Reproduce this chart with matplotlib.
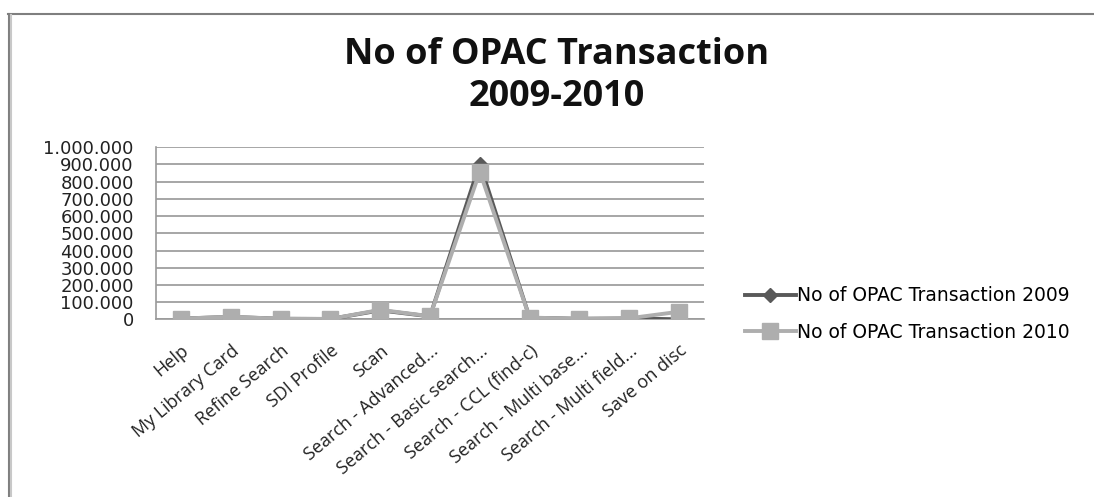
import matplotlib
matplotlib.use("Agg")
import matplotlib.pyplot as plt
from matplotlib.lines import Line2D
from matplotlib.ticker import FuncFormatter

categories = ["Help", "My Library Card", "Refine Search", "SDI Profile", "Scan",
              "Search - Advanced...", "Search - Basic search...", "Search - CCL (find-c)",
              "Search - Multi base...", "Search - Multi field...", "Save on disc"]
values_2009 = [4000, 14000, 3000, 2000, 52000, 17000, 905000, 9000, 3000, 5000, 0]
values_2010 = [4000, 15000, 3000, 2000, 55000, 18000, 858000, 10000, 3000, 6000, 44000]
series_names = ["No of OPAC Transaction 2009", "No of OPAC Transaction 2010"]
title_text = "No of OPAC Transaction\n2009-2010"

W, H = 1094, 497
fig = plt.figure(figsize=(W / 100, H / 100), dpi=100)
fig.patch.set_facecolor("white")

# axes placement in pixels
left, right, top, bottom = 156, 704, 147.3, 319.3
ax = fig.add_axes([left / W, 1 - bottom / H, (right - left) / W, (bottom - top) / H])

x = list(range(len(categories)))
ax.plot(x, values_2009, color="#595959", lw=2.8, marker="D", ms=7,
        markeredgecolor="#595959", markerfacecolor="#595959", label=series_names[0], zorder=3)
ax.plot(x, values_2010, color="#AEAEAE", lw=2.8, marker="s", ms=12,
        markeredgecolor="#AEAEAE", markerfacecolor="#AEAEAE", label=series_names[1], zorder=4)

ax.set_xlim(-0.5, len(categories) - 0.5)
ax.set_ylim(0, 1000000)
ax.set_yticks(range(0, 1000001, 100000))
ax.yaxis.set_major_formatter(FuncFormatter(lambda v, p: "0" if v == 0 else f"{int(v):,}".replace(",", ".")))
ax.grid(axis="y", color="#A6A6A6", lw=1.4)
ax.set_axisbelow(True)
for s in ["top", "right"]:
    ax.spines[s].set_visible(False)
ax.spines["left"].set_color("#9A9A9A")
ax.spines["left"].set_linewidth(1.2)
ax.spines["bottom"].set_color("#9A9A9A")
ax.spines["bottom"].set_linewidth(1.2)
ax.tick_params(axis="y", length=0, pad=16, labelsize=13, labelcolor="#222222")
ax.tick_params(axis="x", length=0, pad=16)
ax.set_xticks(x)
ax.set_xticklabels(categories, rotation=40, ha="right", rotation_mode="anchor",
                   fontsize=13, family="Open Sans", color="#222222")

fig.text(557 / W, 1 - 76 / H, title_text, ha="center", va="center", fontsize=26,
         fontweight="bold", family="Open Sans", color="#111111", linespacing=1.2)

handles = [Line2D([], [], color="#595959", lw=2.8, marker="D", ms=7),
           Line2D([], [], color="#AEAEAE", lw=2.8, marker="s", ms=12)]
fig.legend(handles, series_names, loc="center left",
           bbox_to_anchor=(728 / W, 1 - 314 / H), frameon=False, fontsize=13.5,
           handlelength=2.7, handletextpad=0.1, labelspacing=0.95)

# chart frame
fig.add_artist(Line2D([8 / W, 1], [1 - 14 / H, 1 - 14 / H], transform=fig.transFigure,
                      color="#7F7F7F", lw=1.5))
fig.add_artist(Line2D([9 / W, 9 / W], [0, 1 - 14 / H], transform=fig.transFigure,
                      color="#7F7F7F", lw=1.5))
fig.add_artist(Line2D([10.5 / W, 10.5 / W], [0, 1 - 15 / H], transform=fig.transFigure,
                      color="#C8C8C8", lw=1.5))

fig.savefig("out.png", dpi=100, facecolor="white")
